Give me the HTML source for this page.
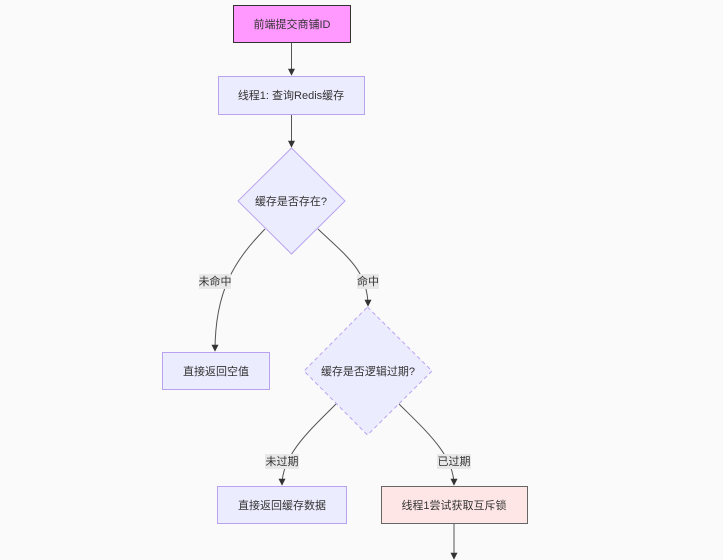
<!DOCTYPE html>
<html><head><meta charset="utf-8"><style>
html,body{margin:0;padding:0;background:#fafafa;width:723px;height:560px;overflow:hidden}
text{font-family:"Liberation Sans","Noto Sans CJK SC",sans-serif;font-size:11px;fill:#333}
</style></head><body>
<svg width="723" height="560" viewBox="0 0 723 560" xmlns="http://www.w3.org/2000/svg">
<defs><marker id="a" viewBox="0 0 10 10" refX="9" refY="5" markerWidth="7" markerHeight="7" orient="auto"><path d="M0,0L10,5L0,10z" fill="#333"/></marker></defs>
<g fill="none" stroke="#555" stroke-width="1">
<path d="M291.5,42V75" marker-end="url(#a)"/>
<path d="M291.5,114V147" marker-end="url(#a)"/>
<path d="M265,229 C235,260 215,290 215,351" marker-end="url(#a)"/>
<path d="M318,229 C345,255 368,270 368,306" marker-end="url(#a)"/>
<path d="M336,404 C310,430 282,455 282,485" marker-end="url(#a)"/>
<path d="M399,404 C425,430 454,455 454,485" marker-end="url(#a)"/>
<path d="M454,523V559" marker-end="url(#a)"/>
</g>
<rect x="233.5" y="5.5" width="117" height="37" fill="#ff99ff" stroke="#333"/>
<text x="292" y="28" text-anchor="middle">前端提交商铺ID</text>
<rect x="218.5" y="76.5" width="146" height="38" fill="#ececff" stroke="#b9a3f0"/>
<text x="291" y="99" text-anchor="middle">线程1: 查询Redis缓存</text>
<polygon points="291.5,148 345,201 291.5,254 238,201" fill="#ececff" stroke="#b9a3f0"/>
<text x="291" y="205" text-anchor="middle">缓存是否存在?</text>
<rect x="199" y="274" width="32" height="15" fill="#e8e8e8"/>
<text x="215" y="285" text-anchor="middle">未命中</text>
<rect x="357" y="274" width="22" height="15" fill="#e8e8e8"/>
<text x="368" y="285" text-anchor="middle">命中</text>
<rect x="162.5" y="352.5" width="107" height="37" fill="#ececff" stroke="#b9a3f0"/>
<text x="216" y="375" text-anchor="middle">直接返回空值</text>
<polygon points="367.5,307 432,371 367.5,435 304,371" fill="#ececff" stroke="#b9a3f0" stroke-dasharray="4,3"/>
<text x="368" y="375" text-anchor="middle">缓存是否逻辑过期?</text>
<rect x="265" y="454" width="34" height="15" fill="#e8e8e8"/>
<text x="282" y="465" text-anchor="middle">未过期</text>
<rect x="437" y="454" width="34" height="15" fill="#e8e8e8"/>
<text x="454" y="465" text-anchor="middle">已过期</text>
<rect x="217.5" y="486.5" width="129" height="37" fill="#ececff" stroke="#b9a3f0"/>
<text x="282" y="509" text-anchor="middle">直接返回缓存数据</text>
<rect x="381.5" y="486.5" width="146" height="37" fill="#ffe6e6" stroke="#666"/>
<text x="454" y="509" text-anchor="middle">线程1尝试获取互斥锁</text>
</svg>
</body></html>
